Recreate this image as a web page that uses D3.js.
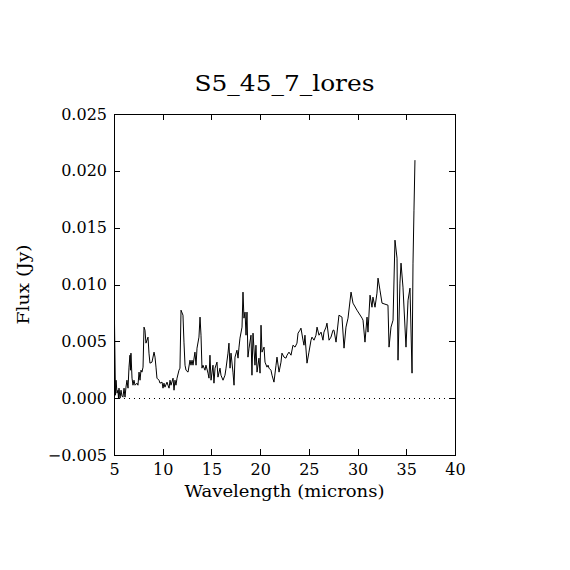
<!DOCTYPE html>
<html>
<head>
<meta charset="utf-8">
<script src="https://cdn.jsdelivr.net/npm/d3@7"></script>
<style>
  html, body { margin: 0; padding: 0; background: #fff; }
  svg { display: block; }
  text { font-family: "DejaVu Serif", "Liberation Serif", serif; fill: #000; }
</style>
</head>
<body>
<svg id="chart" width="570" height="570"></svg>
<script>
const title = "S5_45_7_lores";
const xLabel = "Wavelength (microns)";
const yLabel = "Flux (Jy)";

const xTicks = [5, 10, 15, 20, 25, 30, 35, 40];
const xTickLabels = ["5", "10", "15", "20", "25", "30", "35", "40"];
const yTicks = [-0.005, 0.000, 0.005, 0.010, 0.015, 0.020, 0.025];
const yTickLabels = ["\u22120.005", "0.000", "0.005", "0.010", "0.015", "0.020", "0.025"];

const wavelength = [
  5.05,5.15,5.21,5.31,5.41,5.46,5.51,5.62,5.72,5.82,
  5.92,6.03,6.13,6.23,6.33,6.44,6.54,6.64,6.69,6.74,
  6.85,6.95,7.05,7.16,7.36,7.46,7.57,7.67,7.77,7.87,
  7.98,8.08,8.18,8.28,8.49,8.59,8.69,8.90,9.11,9.21,
  9.31,9.41,9.62,9.72,9.93,10.03,10.13,10.23,10.44,10.54,
  10.65,10.75,10.85,11.06,11.16,11.26,11.36,11.47,11.67,11.77,
  11.88,12.08,12.18,12.29,12.39,12.60,12.80,12.90,13.01,13.11,
  13.31,13.42,13.52,13.72,13.83,13.93,14.03,14.13,14.34,14.44,
  14.65,14.75,14.85,14.96,15.16,15.26,15.37,15.57,15.67,15.88,
  15.98,16.19,16.39,16.50,16.70,16.80,16.91,17.01,17.21,17.32,
  17.42,17.62,17.73,17.83,17.93,18.14,18.24,18.34,18.45,18.55,
  18.65,18.75,18.86,19.06,19.16,19.27,19.47,19.57,19.68,19.88,
  19.99,20.09,20.19,20.40,20.50,20.70,20.81,20.91,21.11,21.22,
  21.42,21.63,21.73,21.94,22.14,22.24,22.45,22.65,22.76,22.96,
  23.17,23.37,23.58,23.78,23.89,24.09,24.19,24.40,24.50,24.60,
  24.81,25.01,25.22,25.32,25.53,25.73,25.84,26.04,26.25,26.45,
  26.55,26.76,26.86,27.07,27.27,27.48,27.58,27.79,28.09,28.40,
  28.61,28.81,29.02,29.33,29.53,29.94,30.46,30.56,30.76,30.97,
  31.07,31.28,31.48,31.58,31.79,31.99,32.10,32.30,32.51,33.12,
  33.23,33.43,33.64,33.84,34.05,34.15,34.35,34.46,34.66,34.97,
  35.18,35.38,35.59,35.69,35.79,35.89
];

const flux = [
  0.00669,0.00026,0.00158,0.00044,0.00070,0.00000,0.00088,0.00000,0.00070,0.00018,
  0.00009,0.00088,0.00009,0.00097,0.00158,0.00088,0.00273,0.00378,0.00246,0.00396,
  0.00176,0.00114,0.00158,0.00114,0.00132,0.00114,0.00229,0.00158,0.00246,0.00229,
  0.00273,0.00625,0.00598,0.00484,0.00537,0.00396,0.00308,0.00317,0.00405,0.00361,
  0.00273,0.00176,0.00158,0.00132,0.00141,0.00088,0.00132,0.00097,0.00141,0.00114,
  0.00088,0.00158,0.00114,0.00176,0.00070,0.00158,0.00114,0.00176,0.00246,0.00264,
  0.00774,0.00730,0.00493,0.00290,0.00246,0.00229,0.00334,0.00290,0.00334,0.00290,
  0.00405,0.00290,0.00440,0.00537,0.00713,0.00554,0.00264,0.00290,0.00246,0.00290,
  0.00220,0.00176,0.00378,0.00158,0.00290,0.00132,0.00264,0.00317,0.00185,0.00264,
  0.00202,0.00158,0.00202,0.00264,0.00396,0.00484,0.00264,0.00396,0.00229,0.00114,
  0.00361,0.00422,0.00352,0.00449,0.00528,0.00625,0.00933,0.00704,0.00757,0.00554,
  0.00757,0.00361,0.00440,0.00554,0.00202,0.00572,0.00290,0.00466,0.00229,0.00352,
  0.00220,0.00642,0.00405,0.00449,0.00317,0.00273,0.00290,0.00264,0.00246,0.00202,
  0.00141,0.00290,0.00361,0.00229,0.00317,0.00396,0.00361,0.00352,0.00378,0.00405,
  0.00378,0.00466,0.00449,0.00484,0.00572,0.00598,0.00616,0.00510,0.00466,0.00554,
  0.00308,0.00405,0.00510,0.00537,0.00510,0.00554,0.00625,0.00554,0.00581,0.00510,
  0.00581,0.00625,0.00660,0.00510,0.00537,0.00598,0.00598,0.00493,0.00730,0.00713,
  0.00440,0.00625,0.00704,0.00933,0.00836,0.00774,0.00704,0.00686,0.00493,0.00713,
  0.00581,0.00906,0.00800,0.00889,0.00800,0.00924,0.01056,0.00950,0.00836,0.00818,
  0.00449,0.00625,0.00686,0.01390,0.01232,0.00334,0.01012,0.01188,0.00977,0.00449,
  0.00862,0.00968,0.00220,0.01188,0.01654,0.02094
];

const svg = d3.select("#chart");
const mLeft = 114, mRight = 455, mTop = 114, mBottom = 455;
const tickLen = 6;

const x = d3.scaleLinear().domain([5, 40]).range([mLeft, mRight]);
const y = d3.scaleLinear().domain([-0.005, 0.025]).range([mBottom, mTop]);

// Axes (ticks inward, box all around)
const axB = d3.axisBottom(x).tickValues(xTicks).tickSizeInner(-tickLen).tickSizeOuter(0)
  .tickFormat((d, i) => xTickLabels[i]).tickPadding(9);
const axT = d3.axisTop(x).tickValues(xTicks).tickSizeInner(-tickLen).tickSizeOuter(0).tickFormat("");
const axL = d3.axisLeft(y).tickValues(yTicks).tickSizeInner(-tickLen).tickSizeOuter(0)
  .tickFormat((d, i) => yTickLabels[i]).tickPadding(7);
const axR = d3.axisRight(y).tickValues(yTicks).tickSizeInner(-tickLen).tickSizeOuter(0).tickFormat("");

function style(g) {
  g.select(".domain").remove();
  g.selectAll("line").attr("stroke", "#000").attr("stroke-width", 1).attr("shape-rendering", "crispEdges");
  g.selectAll("text").style("font-family", '"DejaVu Serif", serif').style("font-size", "16px").attr("fill", "#000");
}
svg.append("g").attr("transform", `translate(0,${mBottom})`).call(axB).call(style);
svg.append("g").attr("transform", `translate(0,${mTop})`).call(axT).call(style);
svg.append("g").attr("transform", `translate(${mLeft},0)`).call(axL).call(style);
svg.append("g").attr("transform", `translate(${mRight},0)`).call(axR).call(style);

// Frame
svg.append("rect")
  .attr("x", x(5)).attr("y", y(0.025))
  .attr("width", x(40) - x(5)).attr("height", y(-0.005) - y(0.025))
  .attr("fill", "none").attr("stroke", "#000").attr("stroke-width", 1)
  .attr("shape-rendering", "crispEdges");

// Zero dotted line
svg.append("line")
  .attr("x1", x(5)).attr("x2", x(40))
  .attr("y1", y(0)).attr("y2", y(0))
  .attr("stroke", "#000").attr("stroke-width", 1)
  .attr("stroke-dasharray", "1,4")
  .attr("shape-rendering", "crispEdges");

// Data line
const data = wavelength.map((w, i) => [w, flux[i]]);
svg.append("path")
  .datum(data)
  .attr("fill", "none")
  .attr("stroke", "#000")
  .attr("stroke-width", 1)
  .attr("d", d3.line().x(d => x(d[0])).y(d => y(d[1])));

// Title
svg.append("text")
  .attr("x", (mLeft + mRight) / 2).attr("y", 91)
  .attr("text-anchor", "middle")
  .attr("textLength", 180).attr("lengthAdjust", "spacingAndGlyphs")
  .style("font-size", "22px")
  .text(title);

// X label
svg.append("text")
  .attr("x", (mLeft + mRight) / 2).attr("y", 497)
  .attr("text-anchor", "middle")
  .attr("textLength", 200).attr("lengthAdjust", "spacingAndGlyphs")
  .style("font-size", "17px")
  .text(xLabel);

// Y label
svg.append("text")
  .attr("transform", `translate(29,${(mTop + mBottom) / 2}) rotate(-90)`)
  .attr("text-anchor", "middle")
  .attr("textLength", 80).attr("lengthAdjust", "spacingAndGlyphs")
  .style("font-size", "17px")
  .text(yLabel);
</script>
</body>
</html>
